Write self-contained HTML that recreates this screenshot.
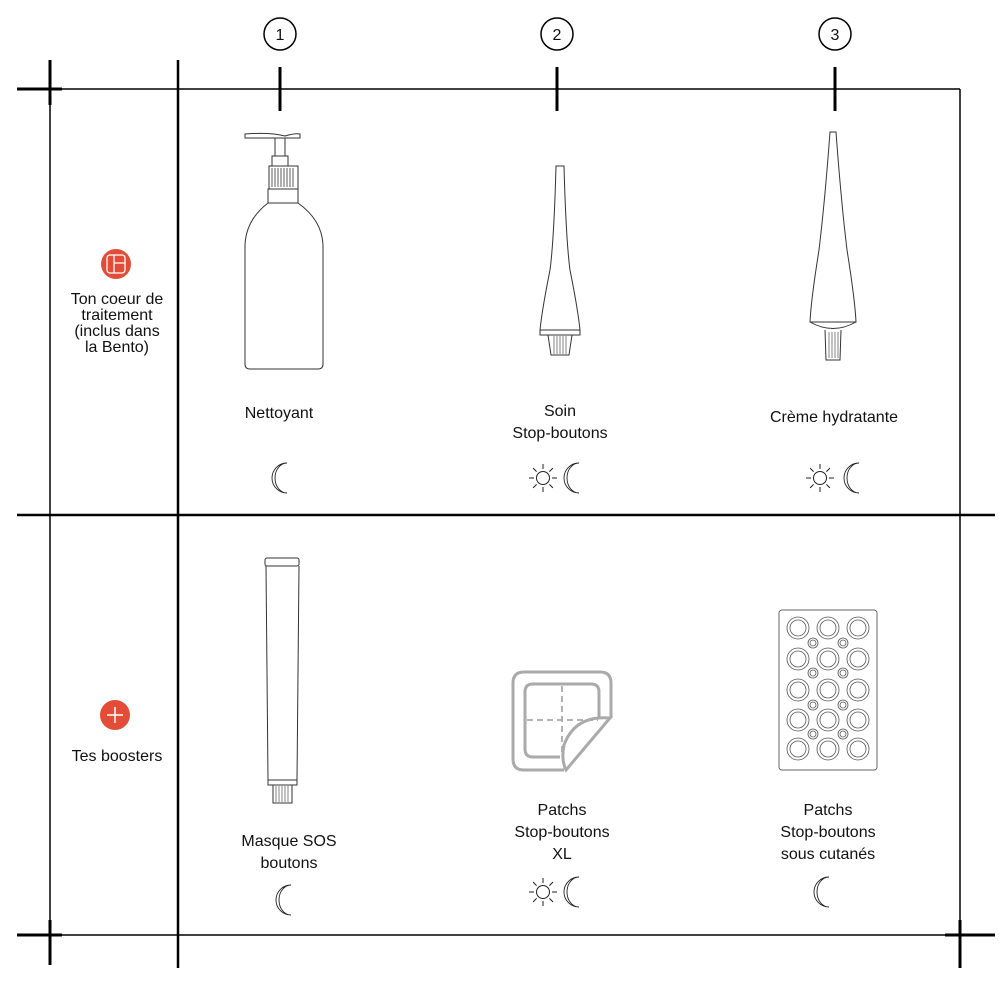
<!DOCTYPE html>
<html><head><meta charset="utf-8"><style>
html,body{margin:0;padding:0;background:#fff}
svg{display:block}
text{font-family:"Liberation Sans",sans-serif;fill:#111;font-size:16px;text-anchor:middle}
</style></head><body>
<svg width="1004" height="1004" viewBox="0 0 1004 1004" xmlns="http://www.w3.org/2000/svg">
<defs>
<g id="moon"><path d="M4,-15 A15,15 0 1 0 4,15 A12,15 0 0 1 4,-15 Z" fill="none" stroke="#222" stroke-width="0.9"/></g>
<g id="sun" stroke="#222" stroke-width="1" fill="none"><circle r="6.5"/>
<path d="M0,-9V-14M0,9V14M-9,0H-14M9,0H14M6.4,-6.4L9.9,-9.9M-6.4,6.4L-9.9,9.9M6.4,6.4L9.9,9.9M-6.4,-6.4L-9.9,-9.9"/></g>
<g id="tube" fill="none" stroke="#333" stroke-width="1">
<path d="M-4,-84 L4,-84 Q6,-10 10,20 Q18,60 20,80 L-20,80 Q-18,60 -10,20 Q-6,-10 -4,-84Z"/>
<rect x="-20" y="80" width="40" height="5"/>
<path d="M-12,85 L-9,105 L9,105 L12,85"/>
<path d="M-6,86V104M-3,86V104M0,86V104M3,86V104M6,86V104" stroke-width="0.6"/>
</g>
<g id="ring" fill="none" stroke="#555" stroke-width="0.8"><circle r="11"/><circle r="8"/></g>
<g id="sring" fill="none" stroke="#555" stroke-width="0.8"><circle r="5"/><circle r="3"/></g>
</defs>
<g stroke="#000" fill="none">
<line x1="17" y1="89" x2="960" y2="89" stroke-width="1.5"/>
<line x1="50" y1="60" x2="50" y2="965" stroke-width="1.5"/>
<line x1="178" y1="60" x2="178" y2="968" stroke-width="2.5"/>
<line x1="960" y1="89" x2="960" y2="968" stroke-width="1.5"/>
<line x1="17" y1="515" x2="995" y2="515" stroke-width="2.5"/>
<line x1="17" y1="935" x2="995" y2="935" stroke-width="1.5"/>
<line x1="17" y1="89" x2="62" y2="89" stroke-width="3"/>
<line x1="50" y1="60" x2="50" y2="105" stroke-width="3"/>
<line x1="17" y1="935" x2="62" y2="935" stroke-width="3"/>
<line x1="50" y1="920" x2="50" y2="965" stroke-width="3"/>
<line x1="945" y1="935" x2="995" y2="935" stroke-width="3"/>
<line x1="960" y1="920" x2="960" y2="968" stroke-width="3"/>
<line x1="280" y1="67" x2="280" y2="111" stroke-width="3"/>
<line x1="557" y1="67" x2="557" y2="111" stroke-width="3"/>
<line x1="835" y1="67" x2="835" y2="111" stroke-width="3"/>
<circle cx="280" cy="34" r="16" stroke-width="1.5"/>
<circle cx="557" cy="34" r="16" stroke-width="1.5"/>
<circle cx="835" cy="34" r="16" stroke-width="1.5"/>
</g>
<text x="280" y="40">1</text><text x="557" y="40">2</text><text x="835" y="40">3</text>
<circle cx="116" cy="264" r="15" fill="#e34c36"/>
<g stroke="#fff" stroke-width="1.3" fill="none"><rect x="107" y="255" width="18" height="18" rx="3"/><path d="M114,255V273M114,263H125"/></g>
<text x="117" y="304" font-size="15">Ton coeur de</text>
<text x="117" y="320" font-size="15">traitement</text>
<text x="117" y="336" font-size="15">(inclus dans</text>
<text x="117" y="352" font-size="15">la Bento)</text>
<circle cx="115" cy="715" r="15" fill="#e34c36"/>
<path d="M115,707V723M107,715H123" stroke="#fff" stroke-width="1.5"/>
<text x="117" y="761" font-size="15">Tes boosters</text>
<g fill="none" stroke="#333" stroke-width="1">
<path d="M245,134 Q270,132 285,136 Q295,133 300,134 L300,138 L245,138 Z"/>
<rect x="275" y="138" width="10" height="18"/>
<rect x="272" y="156" width="16" height="10"/>
<rect x="269" y="166" width="29" height="23"/>
<path d="M272,168V187M275,168V187M278,168V187M281,168V187M284,168V187M287,168V187M290,168V187M293,168V187" stroke-width="0.8"/>
<rect x="268" y="189" width="30" height="14"/>
<path d="M268,203 Q246,220 245,245 L245,364 Q245,369 250,369 L318,369 Q323,369 323,364 L323,245 Q322,220 298,203"/>
</g>
<text x="279" y="418">Nettoyant</text>
<use href="#moon" x="283" y="478"/>
<use href="#tube" transform="translate(560,250)"/>
<text x="560" y="416">Soin</text><text x="560" y="438">Stop-boutons</text>
<use href="#sun" x="543" y="478"/><use href="#moon" x="575" y="478"/>
<g fill="none" stroke="#333" stroke-width="1" transform="translate(833,0)">
<path d="M-3,132 L3,132 Q8,200 14,250 Q22,300 23,322 L-23,322 Q-22,300 -14,250 Q-8,200 -3,132Z"/>
<path d="M-23,322 Q0,335 23,322"/>
<path d="M-8,330 L-7,360 L7,360 L8,330"/>
<path d="M-4,332V358M-1,332V358M2,332V358M5,332V358" stroke-width="0.6"/>
</g>
<text x="834" y="422">Crème hydratante</text>
<use href="#sun" x="820" y="478"/><use href="#moon" x="855" y="478"/>
<g fill="none" stroke="#333" stroke-width="1">
<rect x="265" y="558" width="34" height="8" rx="2"/>
<path d="M266,566 L268,780 L297,780 L299,566"/>
<rect x="268" y="780" width="29" height="5"/>
<rect x="273" y="785" width="19" height="18"/>
<path d="M276,786V802M279,786V802M282,786V802M285,786V802M288,786V802" stroke-width="0.6"/>
</g>
<text x="289" y="846">Masque SOS</text><text x="289" y="868">boutons</text>
<use href="#moon" x="287" y="900"/>
<g fill="none" stroke="#aaa" stroke-width="3">
<path d="M564,770 L524,770 Q513,770 513,759 L513,683 Q513,672 524,672 L600,672 Q611,672 611,683 L611,718"/>
<path d="M560,757 L533,757 Q525,757 525,749 L525,692 Q525,684 533,684 L591,684 Q599,684 599,692 L599,718"/>
<path d="M610,718 Q575,715 564,745 Q561,760 566,770 Z" fill="#fff"/>
<path d="M562,686V753M527,720H598" stroke-dasharray="6,4" stroke-width="1.8"/>
</g>
<text x="562" y="815">Patchs</text><text x="562" y="837">Stop-boutons</text><text x="562" y="859">XL</text>
<use href="#sun" x="543" y="892"/><use href="#moon" x="575" y="892"/>
<rect x="779" y="610" width="98" height="160" rx="3" fill="none" stroke="#666" stroke-width="1"/>
<g>
<use href="#ring" x="798" y="628"/><use href="#ring" x="828" y="628"/><use href="#ring" x="858" y="628"/>
<use href="#ring" x="798" y="659"/><use href="#ring" x="828" y="659"/><use href="#ring" x="858" y="659"/>
<use href="#ring" x="798" y="690"/><use href="#ring" x="828" y="690"/><use href="#ring" x="858" y="690"/>
<use href="#ring" x="798" y="720"/><use href="#ring" x="828" y="720"/><use href="#ring" x="858" y="720"/>
<use href="#ring" x="798" y="749"/><use href="#ring" x="828" y="749"/><use href="#ring" x="858" y="749"/>
<use href="#sring" x="813" y="643"/><use href="#sring" x="843" y="643"/>
<use href="#sring" x="813" y="673"/><use href="#sring" x="843" y="673"/>
<use href="#sring" x="813" y="705"/><use href="#sring" x="843" y="705"/>
<use href="#sring" x="813" y="734"/><use href="#sring" x="843" y="734"/>
</g>
<text x="828" y="815">Patchs</text><text x="828" y="837">Stop-boutons</text><text x="828" y="859">sous cutanés</text>
<use href="#moon" x="825" y="892"/>
</svg>
</body></html>
